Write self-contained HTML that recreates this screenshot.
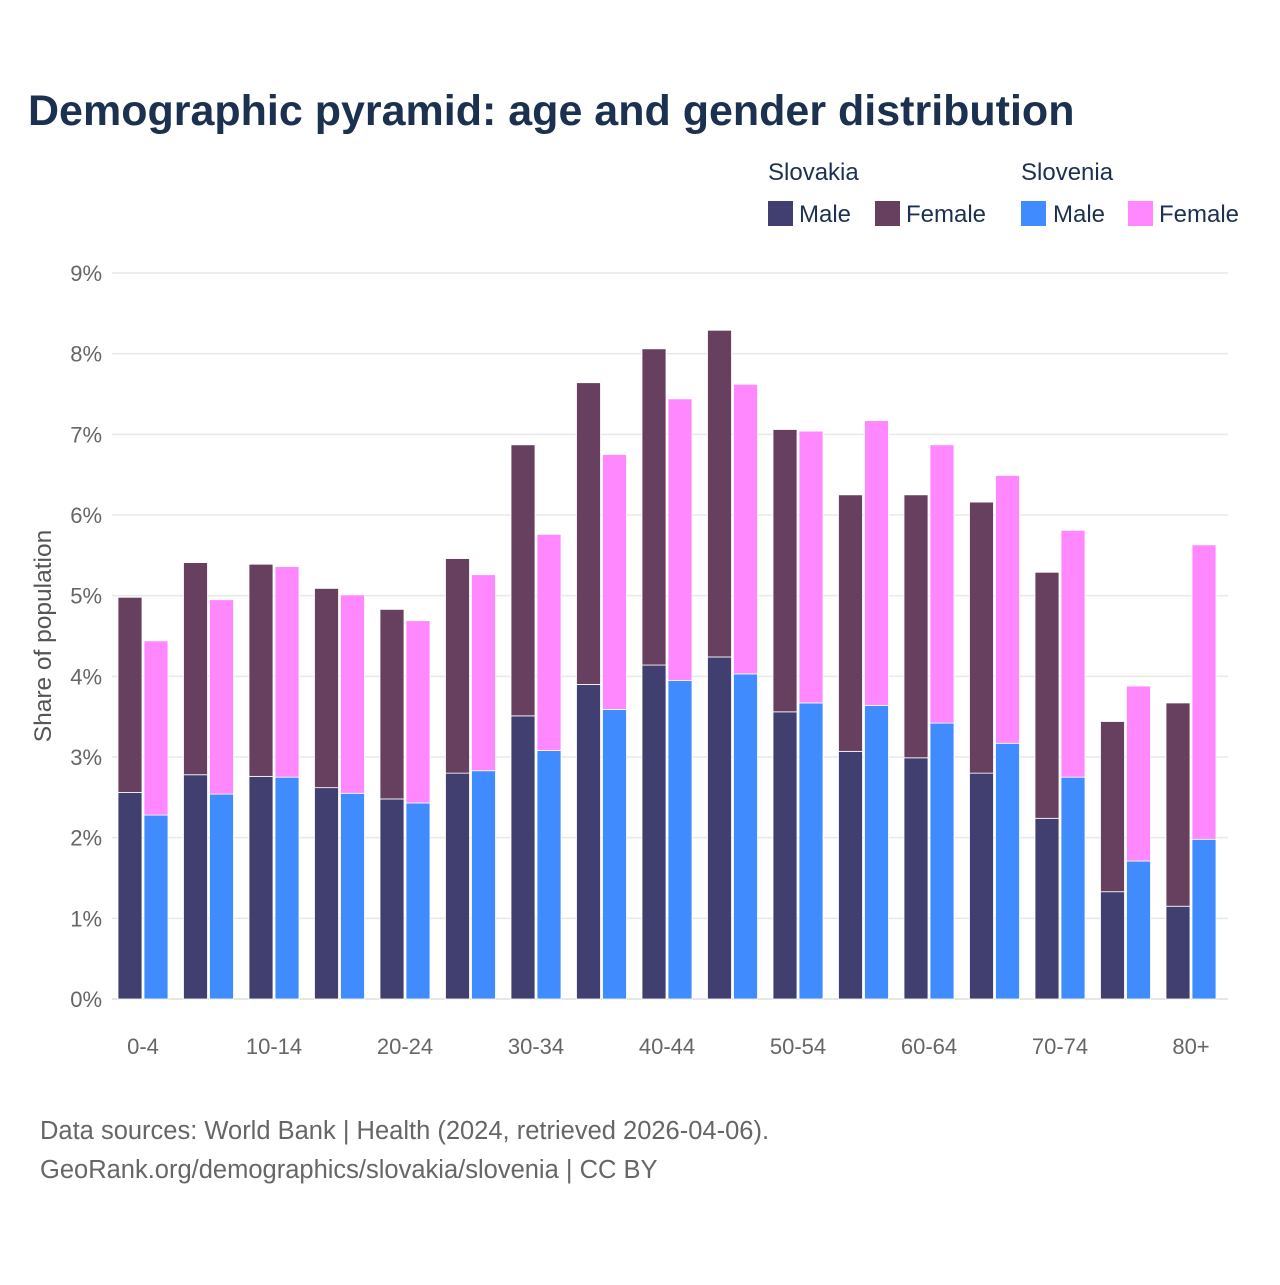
<!DOCTYPE html>
<html><head><meta charset="utf-8"><style>
body{margin:0;background:#fff;font-family:"Liberation Sans",sans-serif;}
</style></head><body>
<svg id="c" width="1280" height="1280" xmlns="http://www.w3.org/2000/svg" style="font-family:'Liberation Sans',sans-serif">
<rect width="1280" height="1280" fill="#fff"/>
<text x="28" y="125" font-size="43" font-weight="bold" fill="#1c3150">Demographic pyramid: age and gender distribution</text>
<g font-size="24" fill="#1c3150">
<text x="768" y="180">Slovakia</text>
<text x="1021" y="180">Slovenia</text>
<rect x="768" y="201" width="25" height="25" fill="#413f6f"/>
<text x="799" y="222">Male</text>
<rect x="875" y="201" width="25" height="25" fill="#673f5f"/>
<text x="906" y="222">Female</text>
<rect x="1021" y="201" width="25" height="25" fill="#408cff"/>
<text x="1053" y="222">Male</text>
<rect x="1128" y="201" width="25" height="25" fill="#ff88ff"/>
<text x="1159" y="222">Female</text>
</g>
<text transform="translate(51,636) rotate(-90)" text-anchor="middle" font-size="24.5" fill="#555">Share of population</text>
<g id="grid"></g><g id="bars"></g><g id="xt"></g>
<text x="40" y="1139" font-size="25.5" fill="#666">Data sources: World Bank | Health (2024, retrieved 2026-04-06).</text>
<text x="40" y="1178" font-size="25.5" fill="#666">GeoRank.org/demographics/slovakia/slovenia | CC BY</text>
</svg>
<script>
const categories=["0-4","5-9","10-14","15-19","20-24","25-29","30-34","35-39","40-44","45-49","50-54","55-59","60-64","65-69","70-74","75-79","80+"];
const skMale=[2.56,2.78,2.76,2.62,2.48,2.80,3.51,3.90,4.14,4.24,3.56,3.07,2.99,2.80,2.24,1.33,1.15];
const skFemale=[2.42,2.63,2.63,2.47,2.35,2.66,3.36,3.74,3.92,4.05,3.50,3.18,3.26,3.36,3.05,2.11,2.52];
const siMale=[2.28,2.54,2.75,2.55,2.43,2.83,3.08,3.59,3.95,4.03,3.67,3.64,3.42,3.17,2.75,1.71,1.98];
const siFemale=[2.16,2.41,2.61,2.46,2.26,2.43,2.68,3.16,3.49,3.59,3.37,3.53,3.45,3.32,3.06,2.17,3.65];
const yTicks=[0,1,2,3,4,5,6,7,8,9];
const NS="http://www.w3.org/2000/svg";
const y=v=>999-v*(726/9);
const xc=i=>143+i*65.5;
function mk(t,a,p){const e=document.createElementNS(NS,t);for(const k in a)e.setAttribute(k,a[k]);document.getElementById(p).appendChild(e);return e;}
yTicks.forEach(t=>{
 const l=mk('line',{x1:112,x2:1228,y1:y(t),y2:y(t),stroke:t?'#e8e8e8':'#ddd','stroke-width':1.5},'grid');
 
 
 const tx=mk('text',{x:102,y:y(t)+8,'text-anchor':'end','font-size':22,fill:'#666'},'grid');
 tx.textContent=t+'%';
 
 
});
function bar(x,v0,v1,c,n){
 const r=mk('rect',{x:x,y:y(v1),width:24,height:y(v0)-y(v1),fill:c,stroke:'#fff','stroke-width':0.8},'bars');
 
 
}
categories.forEach((c,i)=>{
 const x=xc(i);
 bar(x-25,0,skMale[i],'#413f6f','bar-sk-male-'+c);
 bar(x-25,skMale[i],skMale[i]+skFemale[i],'#673f5f','bar-sk-female-'+c);
 bar(x+1,0,siMale[i],'#408cff','bar-si-male-'+c);
 bar(x+1,siMale[i],siMale[i]+siFemale[i],'#ff88ff','bar-si-female-'+c);
 if(i%2===0){
  const t=mk('text',{x:x,y:1054,'text-anchor':'middle','font-size':22,fill:'#666'},'xt');
  t.textContent=c;
  
  
 }
});
</script>
</body></html>
